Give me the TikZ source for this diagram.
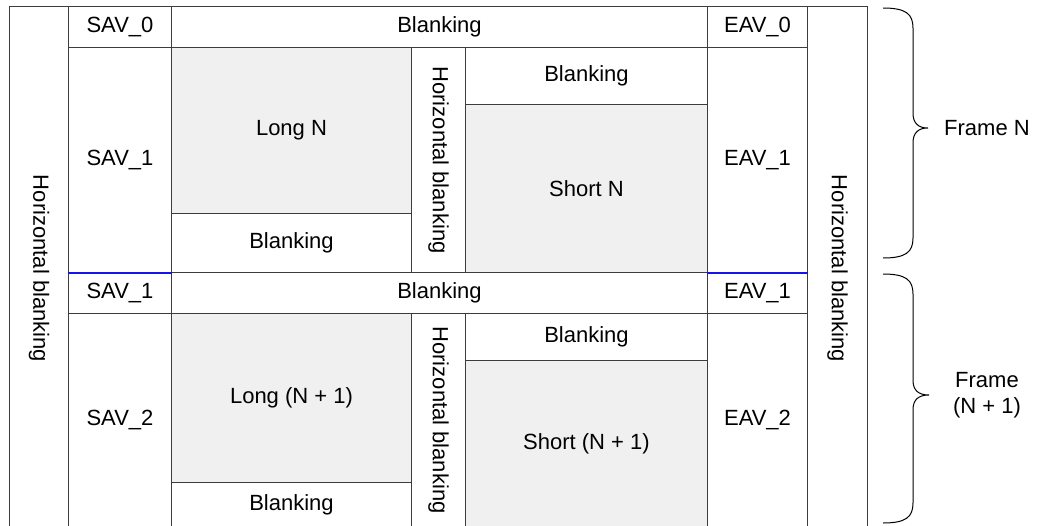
\documentclass[tikz,border=0pt]{standalone}
\usepackage{fontspec}
\setmainfont{Liberation Sans}
\usepackage{tikz}
\usetikzlibrary{positioning}

\definecolor{gridline}{RGB}{60,60,60}
\definecolor{areafill}{RGB}{240,240,240}
\definecolor{fieldline}{RGB}{20,20,230}

\tikzset{
  cell/.style={draw=gridline, line width=1pt, anchor=north west, inner sep=0pt,
    font=\fontsize{22}{26}\selectfont},
  activecell/.style={cell, fill=areafill},
  bracket/.style={draw=black, line width=1pt},
  framelabel/.style={font=\fontsize{22}{26}\selectfont, align=center}
}
\newcommand{\hblank}{\rotatebox{-90}{Horizontal blanking}}

\begin{document}
\begin{tikzpicture}[x=1pt, y=-1pt]
    \useasboundingbox (0,0) rectangle (1039,525);

    % outer horizontal blanking columns
    \node[cell, minimum width=59pt, minimum height=524pt] (hbl) at (9,6) {\hblank};
    \node[cell, minimum width=60pt, minimum height=524pt] (hbr) at (807,6) {\hblank};

    % frame N
    \node[cell, minimum width=103pt, minimum height=41pt] (sav0) at (68,6) {SAV\_0};
    \node[cell, minimum width=536pt, minimum height=41pt] (blank0) at (171,6) {Blanking};
    \node[cell, minimum width=100pt, minimum height=41pt] (eav0) at (707,6) {EAV\_0};
    \node[cell, minimum width=103pt, minimum height=225pt] (sav1) at (68,47) {SAV\_1};
    \node[activecell, minimum width=240pt, minimum height=166pt] (longn) at (171,47) {Long N};
    \node[cell, minimum width=240pt, minimum height=59pt] (blankln) at (171,213) {Blanking};
    \node[cell, minimum width=54pt, minimum height=225pt] (hbn) at (411,47) {\hblank};
    \node[cell, minimum width=242pt, minimum height=57pt] (blanksn) at (465,47) {Blanking};
    \node[activecell, minimum width=242pt, minimum height=168pt] (shortn) at (465,104) {Short N};
    \node[cell, minimum width=100pt, minimum height=225pt] (eav1) at (707,47) {EAV\_1};

    % frame N + 1
    \node[cell, minimum width=103pt, minimum height=41pt] (sav1b) at (68,272) {SAV\_1};
    \node[cell, minimum width=536pt, minimum height=41pt] (blank1) at (171,272) {Blanking};
    \node[cell, minimum width=100pt, minimum height=41pt] (eav1b) at (707,272) {EAV\_1};
    \node[cell, minimum width=103pt, minimum height=213pt] (sav2) at (68,313) {SAV\_2};
    \node[activecell, minimum width=240pt, minimum height=169pt] (longm) at (171,313) {Long (N + 1)};
    \node[cell, minimum width=240pt, minimum height=44pt] (blanklm) at (171,482) {Blanking};
    \node[cell, minimum width=54pt, minimum height=213pt] (hbm) at (411,313) {\hblank};
    \node[cell, minimum width=242pt, minimum height=47pt] (blanksm) at (465,313) {Blanking};
    \node[activecell, minimum width=242pt, minimum height=166pt] (shortm) at (465,360) {Short (N + 1)};
    \node[cell, minimum width=100pt, minimum height=213pt] (eav2) at (707,313) {EAV\_2};

    % field boundary in the SAV/EAV columns
    \draw[fieldline, line width=1.2pt] (sav1.south west) -- (sav1.south east);
    \draw[fieldline, line width=1.2pt] (eav1.south west) -- (eav1.south east);

    % braces
    \draw[bracket] (883,8) .. controls (906,8) and (913,14) .. (913,28) -- (913,113)
      .. controls (913,123) and (918,128) .. (928,128)
      .. controls (918,128) and (913,133) .. (913,143) -- (913,238)
      .. controls (913,252) and (906,258) .. (883,258);
    \draw[bracket] (883,274) .. controls (906,274) and (913,280) .. (913,294) -- (913,380)
      .. controls (913,390) and (918,395) .. (929,395)
      .. controls (918,395) and (913,400) .. (913,410) -- (913,503)
      .. controls (913,517) and (906,523) .. (883,523);
    \node[framelabel] (framen) at (987,128) {Frame N};
    \node[framelabel] (framem) at (987,395) {Frame\\(N + 1)};
\end{tikzpicture}
\end{document}
